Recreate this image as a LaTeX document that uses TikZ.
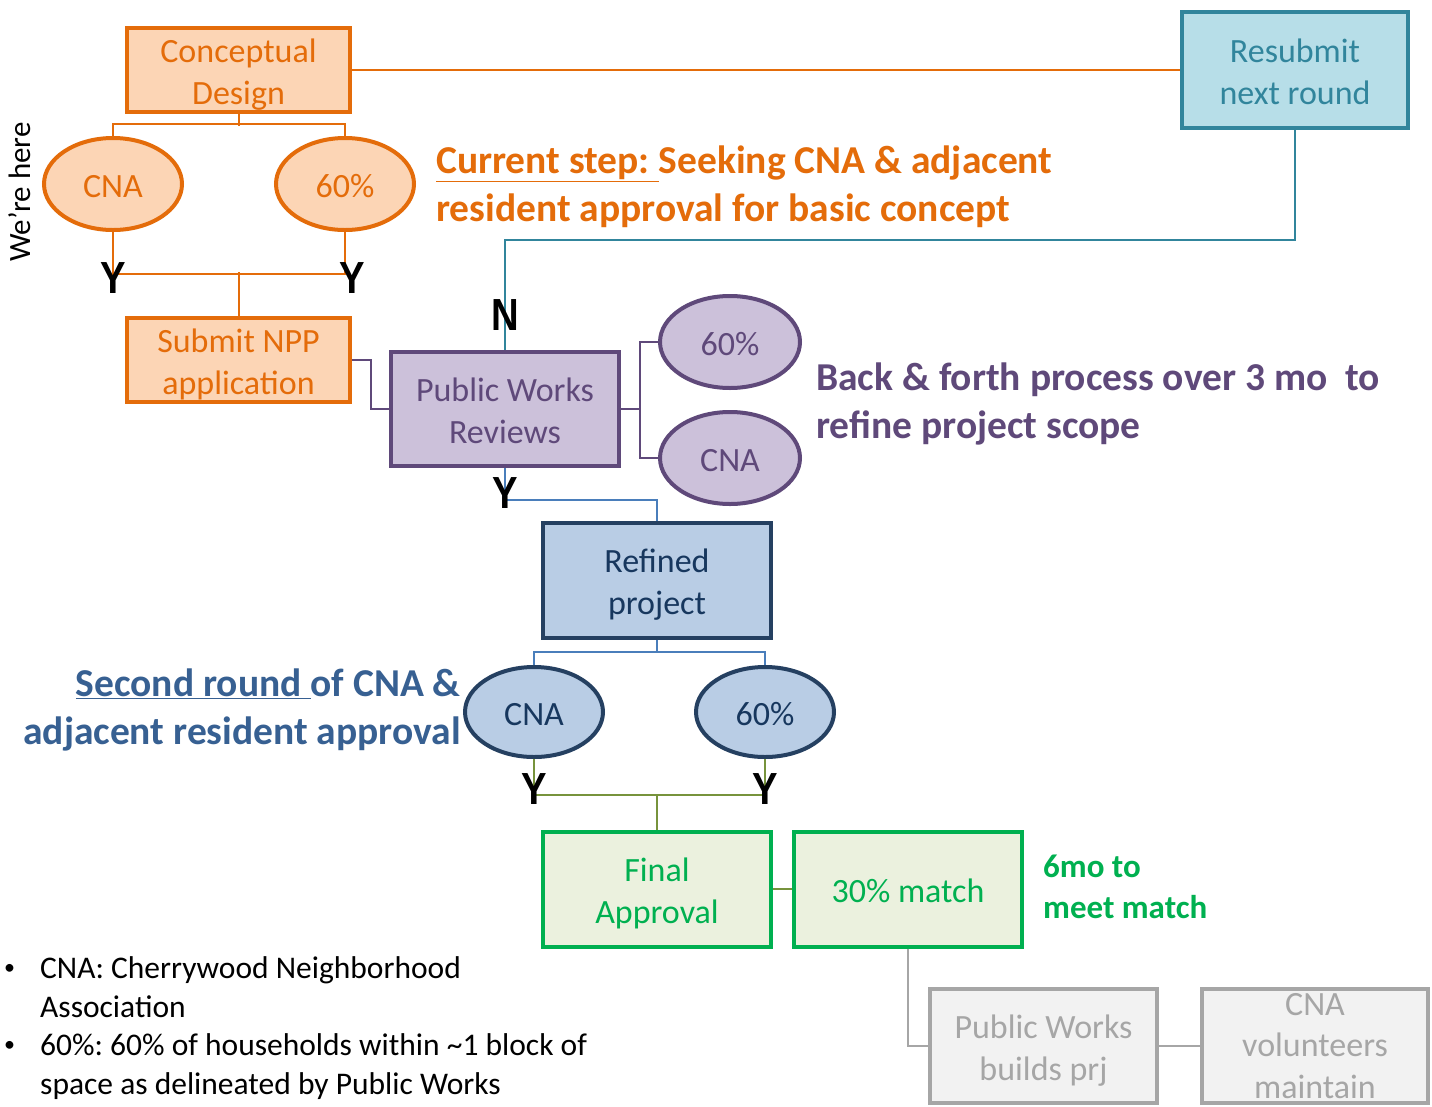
\documentclass[tikz,border=0pt]{standalone}
\usepackage{fontspec}
\usepackage{graphicx}
\setmainfont{Carlito}
\newfontfamily\ynfont{Liberation Sans}
\usetikzlibrary{shapes.geometric}
\definecolor{cOrg}{HTML}{E46C0A}
\definecolor{cOrgFill}{HTML}{FCD5B5}
\definecolor{cTeal}{HTML}{31859C}
\definecolor{cTealFill}{HTML}{B7DEE8}
\definecolor{cPur}{HTML}{5F497A}
\definecolor{cPurFill}{HTML}{CCC1DA}
\definecolor{cNavy}{HTML}{254061}
\definecolor{cNavyText}{HTML}{17375E}
\definecolor{cBlueFill}{HTML}{B9CDE5}
\definecolor{cBlueLine}{HTML}{4A7EBB}
\definecolor{cBlueText}{HTML}{376092}
\definecolor{cGreen}{HTML}{00B050}
\definecolor{cGreenFill}{HTML}{EBF1DE}
\definecolor{cOlive}{HTML}{77933C}
\definecolor{cGray}{HTML}{A6A6A6}
\definecolor{cGrayFill}{HTML}{F2F2F2}
\newcommand{\bstrut}{\rule[-8pt]{0pt}{42pt}}
\newcommand{\ynl}[1]{\scalebox{0.85}[1]{#1}}
\newcommand{\smbul}{\makebox[38pt][l]{\hspace*{2pt}\raisebox{4pt}{\fontsize{22}{22}\selectfont •}}}
\begin{document}
\begin{tikzpicture}[x=1pt,y=-1pt,
  boxtxt/.style={font=\fontsize{34}{42}\selectfont, align=center, inner sep=0pt},
  stbox/.style={boxtxt, draw, rectangle, line width=4pt},
  stell/.style={boxtxt, draw, ellipse, line width=4pt},
  conn/.style={line width=2pt},
  yn/.style={font=\ynfont\fontsize{45}{54}\selectfont\bfseries, text=black, inner sep=0pt},
  bigbold/.style={font=\fontsize{39.5}{48}\selectfont\bfseries, inner sep=0pt, align=left},
]
\useasboundingbox (0,0) rectangle (1432,1106);
\fill[white] (0,0) rectangle (1432,1106);

% ---------- orange stage ----------
\tikzset{org/.style={draw=cOrg, fill=cOrgFill, text=cOrg}}
\node[stbox, org, minimum width=223pt, minimum height=80pt] (cd) at (238.5,70) {\bstrut Conceptual\\\bstrut Design};
\node[stell, org, minimum width=138pt, minimum height=92pt] (cna1) at (113,184) {\bstrut CNA};
\node[stell, org, minimum width=138pt, minimum height=92pt] (p60a) at (345,184) {\bstrut 60\%};
\node[stbox, org, minimum width=223pt, minimum height=80pt] (npp) at (238.5,360) {\bstrut Submit NPP\\\bstrut application};

\draw[conn, cOrg] (cd.south) -- ++(0,12);
\draw[conn, cOrg] (cna1.north) -- ++(0,-12) -| (p60a.north);
\draw[conn, cOrg] (cna1.south) -- ++(0,42) -| (p60a.south);
\draw[conn, cOrg] (npp.north) -- ++(0,-44);

\node[yn] (y1) at (113,278) {\ynl{Y}};
\node[yn] (y2) at (352,278) {\ynl{Y}};

\node[font=\fontsize{31}{37}\selectfont, rotate=90, inner sep=0pt] (here) at (20,192) {We’re here};

% ---------- resubmit ----------
\node[stbox, draw=cTeal, fill=cTealFill, text=cTeal, minimum width=226pt, minimum height=116pt] (resub) at (1295,70) {\bstrut Resubmit\\\bstrut next round};
\draw[conn, cOrg] (cd.east) -- (resub.west);

\node[bigbold, text=cOrg, anchor=north west] (cur) at (436,139.4)
  {\strut\underline{Current step:\ }Seeking CNA \& adjacent\\\strut resident approval for basic concept};

% ---------- purple stage ----------
\tikzset{pur/.style={draw=cPur, fill=cPurFill, text=cPur}}
\node[stbox, pur, minimum width=228pt, minimum height=114pt] (pwr) at (505,409) {\bstrut Public Works\\\bstrut Reviews};
\node[stell, pur, minimum width=140pt, minimum height=92pt] (p60b) at (730,342) {\bstrut 60\%};
\node[stell, pur, minimum width=140pt, minimum height=92pt] (cnab) at (730,458) {\bstrut CNA};

\draw[conn, cTeal] (resub.south) -- ++(0,110) -| (pwr.north);
\node[yn] (n1) at (505,315) {\ynl{N}};

\draw[conn, cPur] (npp.east) -- ++(19,0) |- (pwr.west);
\draw[conn, cPur] (pwr.east) -- ++(19,0);
\draw[conn, cPur] (p60b.west) -- ++(-18,0) |- (cnab.west);

\node[bigbold, text=cPur, anchor=north west] (back) at (816,356.4)
  {\strut Back \& forth process over 3 mo\ \ to\\\strut refine project scope};

% ---------- blue stage ----------
\tikzset{blu/.style={draw=cNavy, fill=cBlueFill, text=cNavyText}}
\node[stbox, blu, minimum width=228pt, minimum height=115pt] (ref) at (657,580) {\bstrut Refined\\\bstrut project};
\draw[conn, cBlueLine] (pwr.south) -- ++(0,32) -| (ref.north);
\node[yn] (y3) at (505,493) {\ynl{Y}};

\node[stell, blu, minimum width=138pt, minimum height=90pt] (cnac) at (534,712) {\bstrut CNA};
\node[stell, blu, minimum width=138pt, minimum height=90pt] (p60c) at (765,712) {\bstrut 60\%};
\draw[conn, cBlueLine] (ref.south) -- ++(0,13);
\draw[conn, cBlueLine] (cnac.north) -- ++(0,-13) -| (p60c.north);

\node[bigbold, text=cBlueText, anchor=north east, align=right] (second) at (461,663)
  {\strut\underline{Second round }of CNA \&\\\strut adjacent resident approval};

% ---------- green stage ----------
\tikzset{grn/.style={draw=cGreen, fill=cGreenFill, text=cGreen}}
\node[stbox, grn, minimum width=228pt, minimum height=115pt] (fin) at (657,889) {\bstrut Final\\\bstrut Approval};
\node[stbox, grn, minimum width=228pt, minimum height=115pt] (match) at (908,889) {\bstrut 30\% match};
\draw[conn, cOlive] (cnac.south) -- ++(0,36) -| (p60c.south);
\draw[conn, cOlive] (fin.north) -- ++(0,-34);
\draw[conn, cOlive] (fin.east) -- (match.west);
\node[yn] (y4) at (534,789) {\ynl{Y}};
\node[yn] (y5) at (765,789) {\ynl{Y}};

\node[font=\fontsize{33}{41}\selectfont\bfseries, inner sep=0pt, align=left, text=cGreen, anchor=north west] (six) at (1043,848.3)
  {\strut 6mo to\\\strut meet match};

% ---------- gray stage ----------
\tikzset{gry/.style={draw=cGray, fill=cGrayFill, text=cGray}}
\node[stbox, gry, minimum width=227pt, minimum height=114pt] (pwb) at (1043.5,1046) {\bstrut Public Works\\\bstrut builds prj};
\node[stbox, gry, minimum width=226pt, minimum height=114pt, font=\fontsize{34}{41.5}\selectfont] (vol) at (1315,1046) {CNA\\volunteers\\maintain};
\draw[conn, cGray] (match.south) |- (pwb.west);
\draw[conn, cGray] (pwb.east) -- (vol.west);

% ---------- legend ----------
\node[font=\fontsize{31.5}{38.7}\selectfont\frenchspacing, inner sep=0pt, align=left, anchor=north west] (legend) at (2,951)
  {\strut\smbul CNA: Cherrywood Neighborhood\\
   \strut\hspace*{38pt}Association\\
   \strut\smbul 60\%: 60\% of households within \textasciitilde 1 block of\\
   \strut\hspace*{38pt}space as delineated by Public Works};
\end{tikzpicture}
\end{document}
